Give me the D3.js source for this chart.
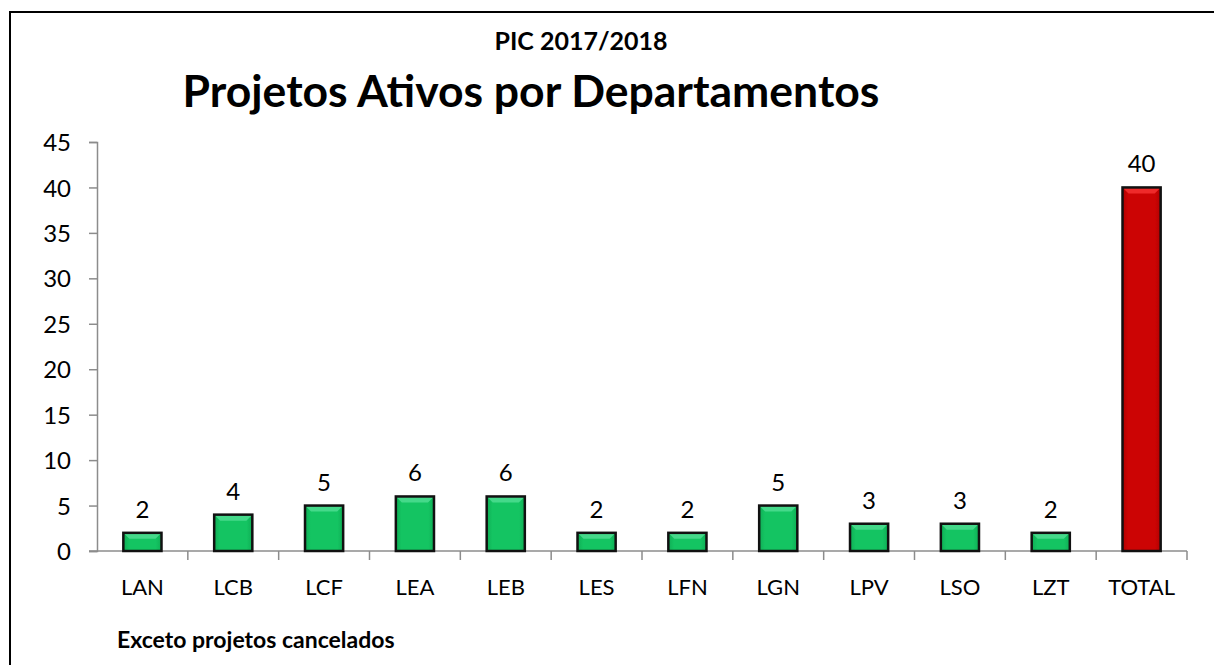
<!DOCTYPE html>
<html>
<head>
<meta charset="utf-8">
<script src="https://cdn.jsdelivr.net/npm/d3@7"></script>
<style>
  body { margin: 0; background: #fff; }
  text { font-family: Lato, "Open Sans", sans-serif; }
</style>
</head>
<body>
<div id="chart"></div>
<script>
// data
const departamentos = ["LAN", "LCB", "LCF", "LEA", "LEB", "LES", "LFN", "LGN", "LPV", "LSO", "LZT", "TOTAL"];
const projetos = [2, 4, 5, 6, 6, 2, 2, 5, 3, 3, 2, 40];
const yTicks = [0, 5, 10, 15, 20, 25, 30, 35, 40, 45];

const width = 1214, height = 665;
const plotLeft = 97, plotRight = 1187, plotTop = 142, plotBottom = 551;

const svg = d3.select("#chart").append("svg")
  .attr("width", width)
  .attr("height", height);

// outer frame (runs off the right and bottom edges)
svg.append("rect")
  .attr("x", 10).attr("y", 12)
  .attr("width", 1220).attr("height", 700)
  .attr("fill", "none").attr("stroke", "#000").attr("stroke-width", 2);

const defs = svg.append("defs");
function grad(id, c1, c2) {
  const g = defs.append("linearGradient").attr("id", id)
    .attr("x1", 0).attr("x2", 1).attr("y1", 0).attr("y2", 0);
  g.append("stop").attr("offset", "0%").attr("stop-color", c2);
  g.append("stop").attr("offset", "15%").attr("stop-color", c1);
  g.append("stop").attr("offset", "85%").attr("stop-color", c1);
  g.append("stop").attr("offset", "100%").attr("stop-color", c2);
}
grad("gGreen", "#14c462", "#0fae55");
grad("gRed", "#cc0404", "#b20000");

const x = d3.scaleBand()
  .domain(departamentos)
  .range([plotLeft, plotRight])
  .paddingInner(0.58)
  .paddingOuter(0.29);

const y = d3.scaleLinear()
  .domain([0, 45])
  .range([plotBottom, plotTop]);

// y axis
const yAxis = svg.append("g")
  .attr("transform", `translate(${plotLeft},0)`)
  .call(d3.axisLeft(y).tickValues(yTicks).tickSize(8).tickSizeOuter(8));
yAxis.selectAll("path, line").attr("stroke", "#8c8c8c").attr("stroke-width", 1.5);
yAxis.selectAll("text")
  .attr("font-size", 24).attr("fill", "#000").attr("x", -26).attr("dy", "0.36em");

// x axis baseline + ticks at band boundaries
const step = (plotRight - plotLeft) / departamentos.length;
svg.append("line")
  .attr("x1", plotLeft - 8).attr("x2", plotRight)
  .attr("y1", plotBottom).attr("y2", plotBottom)
  .attr("stroke", "#8c8c8c").attr("stroke-width", 1.5);
svg.selectAll(".xtick")
  .data(d3.range(1, departamentos.length + 1))
  .enter().append("line")
  .attr("x1", i => plotLeft + i * step).attr("x2", i => plotLeft + i * step)
  .attr("y1", plotBottom).attr("y2", plotBottom + 9)
  .attr("stroke", "#8c8c8c").attr("stroke-width", 1.5);

svg.selectAll(".xlab")
  .data(departamentos)
  .enter().append("text")
  .attr("x", d => x(d) + x.bandwidth() / 2)
  .attr("y", 595)
  .attr("text-anchor", "middle")
  .attr("font-size", 22)
  .text(d => d);

// bars
const bars = svg.selectAll(".bar")
  .data(departamentos.map((d, i) => ({ dep: d, v: projetos[i] })))
  .enter().append("g");

bars.append("rect")
  .attr("x", d => x(d.dep))
  .attr("y", d => y(d.v))
  .attr("width", x.bandwidth())
  .attr("height", d => y(0) - y(d.v))
  .attr("fill", d => d.dep === "TOTAL" ? "url(#gRed)" : "url(#gGreen)");

// top bevel highlight
bars.append("path")
  .attr("d", d => {
    const x0 = x(d.dep), x1 = x0 + x.bandwidth(), t = y(d.v), b = 6;
    return `M${x0},${t}L${x1},${t}L${x1 - b},${t + b}L${x0 + b},${t + b}Z`;
  })
  .attr("fill", d => d.dep === "TOTAL" ? "#ef2a2a" : "#45d98a");

bars.append("rect")
  .attr("x", d => x(d.dep))
  .attr("y", d => y(d.v))
  .attr("width", x.bandwidth())
  .attr("height", d => y(0) - y(d.v))
  .attr("fill", "none")
  .attr("stroke", "#111")
  .attr("stroke-width", 2.5);

bars.append("text")
  .attr("x", d => x(d.dep) + x.bandwidth() / 2)
  .attr("y", d => y(d.v) - 15)
  .attr("text-anchor", "middle")
  .attr("font-size", 24)
  .text(d => d.v);

// titles
svg.append("text")
  .attr("x", 581).attr("y", 50)
  .attr("text-anchor", "middle")
  .attr("font-size", 25).attr("font-weight", "bold")
  .text("PIC 2017/2018");

svg.append("text")
  .attr("x", 531).attr("y", 107)
  .attr("text-anchor", "middle")
  .attr("font-size", 44.5).attr("font-weight", "bold")
  .text("Projetos Ativos por Departamentos");

svg.append("text")
  .attr("x", 117).attr("y", 648)
  .attr("font-size", 23).attr("font-weight", "bold")
  .text("Exceto projetos cancelados");
</script>
</body>
</html>
